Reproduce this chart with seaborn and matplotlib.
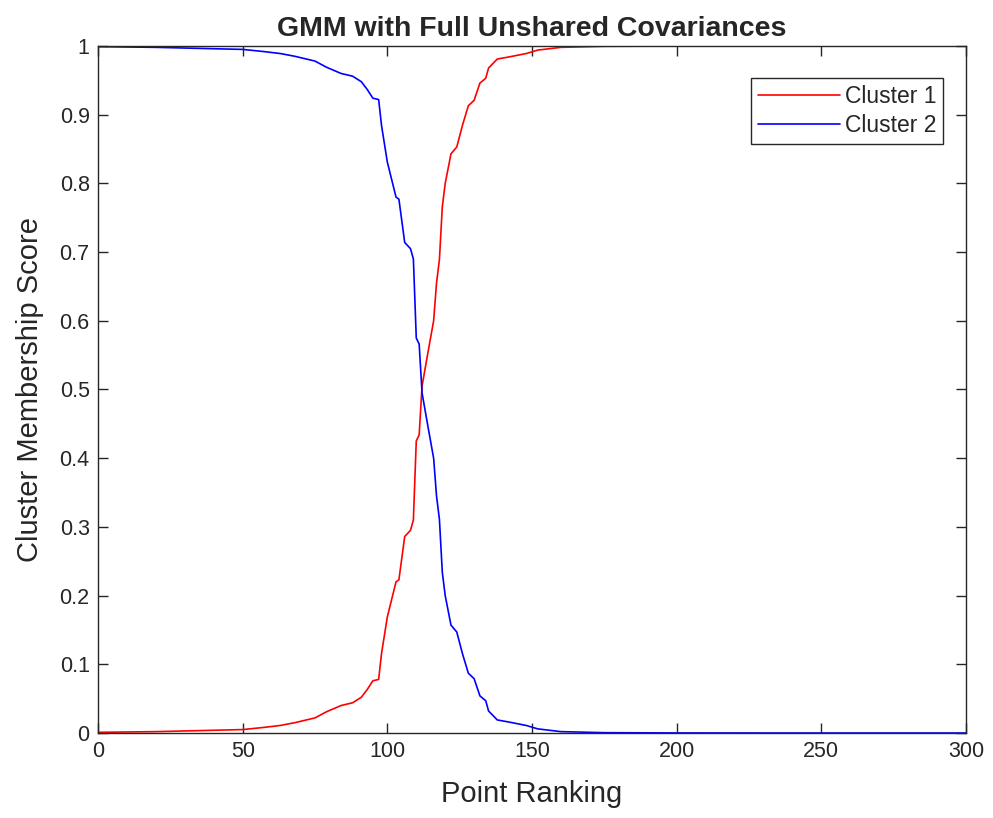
import numpy as np
import pandas as pd
import matplotlib
matplotlib.use("Agg")
import matplotlib.pyplot as plt
import seaborn as sns

# values
rank = [0, 20, 40, 50, 57, 63, 68, 72, 75, 79, 84, 88, 91, 93, 95, 97, 98,
        100, 103, 104, 106, 108, 109, 110, 111, 112, 114, 116, 117, 118, 119,
        120, 122, 124, 126, 128, 130, 132, 134, 135, 138, 142, 148, 152, 160,
        175, 200, 250, 300]
cluster1 = [0.001, 0.002, 0.004, 0.005, 0.008, 0.011, 0.015, 0.019, 0.022,
            0.031, 0.040, 0.044, 0.052, 0.063, 0.076, 0.078, 0.116, 0.169,
            0.220, 0.223, 0.286, 0.295, 0.310, 0.425, 0.434, 0.505, 0.553,
            0.600, 0.655, 0.689, 0.766, 0.800, 0.843, 0.853, 0.885, 0.913,
            0.921, 0.946, 0.953, 0.968, 0.981, 0.984, 0.989, 0.994, 0.998,
            0.9995, 0.9999, 1.0, 1.0]
cluster2 = [0.999, 0.998, 0.996, 0.995, 0.992, 0.989, 0.985, 0.981, 0.978,
            0.969, 0.960, 0.956, 0.948, 0.937, 0.924, 0.922, 0.884, 0.831,
            0.780, 0.777, 0.714, 0.705, 0.690, 0.575, 0.566, 0.495, 0.447,
            0.400, 0.345, 0.311, 0.234, 0.200, 0.157, 0.147, 0.115, 0.087,
            0.079, 0.054, 0.047, 0.032, 0.019, 0.016, 0.011, 0.006, 0.002,
            0.0005, 0.0001, 0.0, 0.0]
labels = ["Cluster 1", "Cluster 2"]

df = pd.DataFrame({
    "rank": rank * 2,
    "score": cluster1 + cluster2,
    "cluster": [labels[0]] * len(rank) + [labels[1]] * len(rank),
})

sns.set_style("ticks")
plt.rcParams["font.family"] = ["Liberation Sans", "DejaVu Sans"]

fig = plt.figure(figsize=(9.93, 8.18), dpi=100)
ax = fig.add_axes([0.0987, 0.1039, 0.8741, 0.8399])

sns.lineplot(data=df, x="rank", y="score", hue="cluster",
             palette={"Cluster 1": "#ff0000", "Cluster 2": "#0000ff"},
             estimator=None, sort=False, linewidth=1.2, ax=ax)

ax.set_xlim(0, 300)
ax.set_ylim(0, 1)
ax.set_xticks(np.arange(0, 301, 50))
ax.set_yticks(np.arange(0, 1.01, 0.1))
ax.set_yticklabels(["0", "0.1", "0.2", "0.3", "0.4", "0.5", "0.6", "0.7",
                    "0.8", "0.9", "1"])
ax.tick_params(direction="in", length=7, width=1, top=True, right=True,
               labelsize=15.5, colors="#262626", pad=6)
for sp in ax.spines.values():
    sp.set_visible(True)
    sp.set_color("#262626")
    sp.set_linewidth(1)

ax.set_xlabel("Point Ranking", fontsize=21, color="#262626", labelpad=13)
ax.set_ylabel("Cluster Membership Score", fontsize=21, color="#262626",
              labelpad=11)
ax.set_title("GMM with Full Unshared Covariances", fontsize=20.5,
             fontweight="bold", pad=7)

leg = ax.legend(loc="upper right", bbox_to_anchor=(0.9735, 0.953),
                fontsize=16.5, frameon=True, fancybox=False, framealpha=1,
                edgecolor="#262626", handlelength=3.6, handletextpad=0.2,
                borderpad=0.3, labelspacing=0.25, borderaxespad=0)
leg.get_frame().set_linewidth(1)

fig.savefig("out.png", dpi=100)
